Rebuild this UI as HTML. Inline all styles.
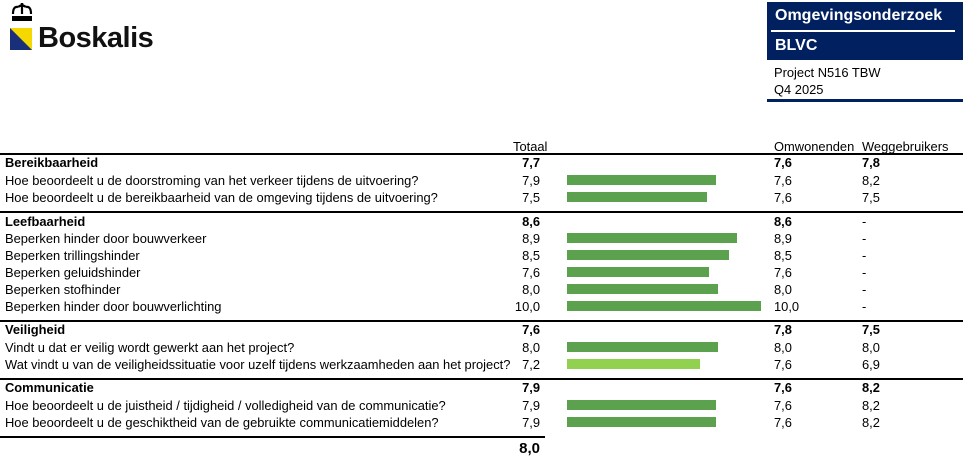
<!DOCTYPE html>
<html><head><meta charset="utf-8"><style>
body{margin:0;width:966px;height:459px;background:#fff;position:relative;overflow:hidden;font-family:"Liberation Sans",Arial,sans-serif;font-size:12.9px;color:#000}
div{position:absolute;white-space:nowrap}
.l{left:5px}
.t{right:426px;text-align:right}
.o{left:774px}
.w{left:862px}
.b{font-weight:bold}
.bar{left:567px;height:10px;background:#5ba14e}
.hr{left:0;height:2px;background:#000}
</style></head><body>
<svg style="position:absolute;left:10px;top:3px" width="24" height="22" viewBox="0 0 24 22"><path d="M3 11 Q3 3 8 4 M21 11 Q21 3 16 4 M12 0 L12 11 M8 4 Q12 1 16 4" stroke="#000" stroke-width="2.2" fill="none"/><rect x="2" y="13" width="20" height="5" fill="#000"/><circle cx="12" cy="1.5" r="1.5" fill="#000"/></svg>
<svg style="position:absolute;left:10px;top:28px" width="22" height="22"><rect width="22" height="22" fill="#f5d800"/><polygon points="0,0 22,22 0,22" fill="#1a2f7a"/></svg>
<div style="left:38px;top:22px;font-size:29px;font-weight:bold;letter-spacing:-0.5px;color:#111">Boskalis</div>
<div style="left:767px;top:2px;width:196px;height:58px;background:#002060"></div>
<div style="left:771px;top:30px;width:184px;height:2px;background:#fff"></div>
<div style="left:775px;top:7px;font-size:16px;font-weight:bold;color:#fff">Omgevingsonderzoek</div>
<div style="left:775px;top:37px;font-size:16px;font-weight:bold;color:#fff">BLVC</div>
<div style="left:774px;top:65px">Project N516 TBW</div>
<div style="left:774px;top:82px">Q4 2025</div>
<div style="left:767px;top:99px;width:196px;height:3px;background:#002060"></div>
<div style="left:513px;top:139px">Totaal</div>
<div class="o" style="top:139px">Omwonenden</div>
<div class="w" style="top:139px">Weggebruikers</div>
<div class="hr" style="top:153px;width:963px"></div>

<div class="l b" style="top:155px">Bereikbaarheid</div><div class="t b" style="top:155px">7,7</div><div class="o b" style="top:155px">7,6</div><div class="w b" style="top:155px">7,8</div>
<div class="l" style="top:173px">Hoe beoordeelt u de doorstroming van het verkeer tijdens de uitvoering?</div><div class="t" style="top:173px">7,9</div><div class="bar" style="top:175px;width:149px"></div><div class="o" style="top:173px">7,6</div><div class="w" style="top:173px">8,2</div>
<div class="l" style="top:190px">Hoe beoordeelt u de bereikbaarheid van de omgeving tijdens de uitvoering?</div><div class="t" style="top:190px">7,5</div><div class="bar" style="top:192px;width:140px"></div><div class="o" style="top:190px">7,6</div><div class="w" style="top:190px">7,5</div>
<div class="hr" style="top:211px;width:963px"></div>

<div class="l b" style="top:214px">Leefbaarheid</div><div class="t b" style="top:214px">8,6</div><div class="o b" style="top:214px">8,6</div><div class="w" style="top:214px">-</div>
<div class="l" style="top:231px">Beperken hinder door bouwverkeer</div><div class="t" style="top:231px">8,9</div><div class="bar" style="top:233px;width:170px"></div><div class="o" style="top:231px">8,9</div><div class="w" style="top:231px">-</div>
<div class="l" style="top:248px">Beperken trillingshinder</div><div class="t" style="top:248px">8,5</div><div class="bar" style="top:250px;width:162px"></div><div class="o" style="top:248px">8,5</div><div class="w" style="top:248px">-</div>
<div class="l" style="top:265px">Beperken geluidshinder</div><div class="t" style="top:265px">7,6</div><div class="bar" style="top:267px;width:142px"></div><div class="o" style="top:265px">7,6</div><div class="w" style="top:265px">-</div>
<div class="l" style="top:282px">Beperken stofhinder</div><div class="t" style="top:282px">8,0</div><div class="bar" style="top:284px;width:151px"></div><div class="o" style="top:282px">8,0</div><div class="w" style="top:282px">-</div>
<div class="l" style="top:299px">Beperken hinder door bouwverlichting</div><div class="t" style="top:299px">10,0</div><div class="bar" style="top:301px;width:194px"></div><div class="o" style="top:299px">10,0</div><div class="w" style="top:299px">-</div>
<div class="hr" style="top:320px;width:963px"></div>

<div class="l b" style="top:322px">Veiligheid</div><div class="t b" style="top:322px">7,6</div><div class="o b" style="top:322px">7,8</div><div class="w b" style="top:322px">7,5</div>
<div class="l" style="top:340px">Vindt u dat er veilig wordt gewerkt aan het project?</div><div class="t" style="top:340px">8,0</div><div class="bar" style="top:342px;width:151px"></div><div class="o" style="top:340px">8,0</div><div class="w" style="top:340px">8,0</div>
<div class="l" style="top:357px">Wat vindt u van de veiligheidssituatie voor uzelf tijdens werkzaamheden aan het project?</div><div class="t" style="top:357px">7,2</div><div class="bar" style="top:359px;width:133px;background:#92d050"></div><div class="o" style="top:357px">7,6</div><div class="w" style="top:357px">6,9</div>
<div class="hr" style="top:378px;width:963px"></div>

<div class="l b" style="top:380px">Communicatie</div><div class="t b" style="top:380px">7,9</div><div class="o b" style="top:380px">7,6</div><div class="w b" style="top:380px">8,2</div>
<div class="l" style="top:398px">Hoe beoordeelt u de juistheid / tijdigheid / volledigheid van de communicatie?</div><div class="t" style="top:398px">7,9</div><div class="bar" style="top:400px;width:149px"></div><div class="o" style="top:398px">7,6</div><div class="w" style="top:398px">8,2</div>
<div class="l" style="top:415px">Hoe beoordeelt u de geschiktheid van de gebruikte communicatiemiddelen?</div><div class="t" style="top:415px">7,9</div><div class="bar" style="top:417px;width:149px"></div><div class="o" style="top:415px">7,6</div><div class="w" style="top:415px">8,2</div>
<div class="hr" style="top:436px;width:545px"></div>
<div class="t b" style="top:440px;font-size:15px">8,0</div>
</body></html>
